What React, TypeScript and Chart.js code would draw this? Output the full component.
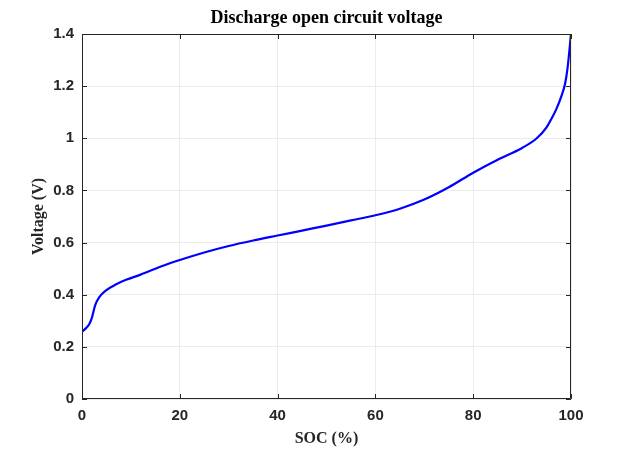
import React, { useEffect, useRef } from "react";
import { Chart, registerables } from "chart.js";

Chart.register(...registerables);

const soc = [0, 1, 1.5, 2, 2.7, 3.5, 5, 7, 9, 12, 16, 20, 25, 30, 35, 40, 45, 50, 55, 60, 65, 70, 75, 80, 85, 90, 93, 95, 96, 97, 98, 98.8, 99.3, 100];
const voltage = [0.258, 0.275, 0.288, 0.31, 0.36, 0.39, 0.418, 0.44, 0.457, 0.477, 0.507, 0.533, 0.562, 0.587, 0.608, 0.627, 0.646, 0.665, 0.685, 0.705, 0.73, 0.765, 0.812, 0.868, 0.918, 0.963, 1.0, 1.042, 1.075, 1.112, 1.16, 1.21, 1.27, 1.4];
const xTicks = [0, 20, 40, 60, 80, 100];
const yTicks = [0, 0.2, 0.4, 0.6, 0.8, 1, 1.2, 1.4];
const titleText = "Discharge open circuit voltage";

const AXIS = "#262626";
const SERIF = "'Liberation Serif', 'Times New Roman', serif";
const SANS = "'Liberation Sans', Arial, sans-serif";

const boxPlugin = {
  id: "boxTicks",
  afterDatasetsDraw(chart: any) {
    const { ctx, chartArea } = chart;
    const { left, right, top, bottom } = chartArea;
    const xs = chart.scales.x;
    const ys = chart.scales.y;
    ctx.save();
    ctx.strokeStyle = AXIS;
    ctx.lineWidth = 1;
    ctx.beginPath();
    ctx.rect(left + 0.5, top + 0.5, right - left - 1, bottom - top - 1);
    const t = 5;
    xTicks.forEach((v) => {
      const px = Math.round(xs.getPixelForValue(v)) + 0.5;
      ctx.moveTo(px, bottom);
      ctx.lineTo(px, bottom - t);
      ctx.moveTo(px, top);
      ctx.lineTo(px, top + t);
    });
    yTicks.forEach((v) => {
      const py = Math.round(ys.getPixelForValue(v)) + 0.5;
      ctx.moveTo(left, py);
      ctx.lineTo(left + t, py);
      ctx.moveTo(right, py);
      ctx.lineTo(right - t, py);
    });
    ctx.stroke();
    ctx.fillStyle = "#000";
    ctx.font = `bold 18px ${SERIF}`;
    ctx.textAlign = "center";
    ctx.textBaseline = "middle";
    ctx.fillText(titleText, (left + right) / 2, 18);
    ctx.restore();
  },
};

export default function App() {
  const ref = useRef<HTMLCanvasElement>(null);
  useEffect(() => {
    document.body.style.margin = "0";
    const c = new Chart(ref.current!, {
      type: "line",
      data: {
        datasets: [
          {
            data: soc.map((s, i) => ({ x: s, y: voltage[i] })),
            borderColor: "#0000ff",
            borderWidth: 2.2,
            pointRadius: 0,
            cubicInterpolationMode: "monotone",
            fill: false,
          },
        ],
      },
      options: {
        animation: false,
        responsive: false,
        maintainAspectRatio: false,
        layout: { padding: { left: 0, right: 60, top: 34, bottom: 0 } },
        plugins: {
          legend: { display: false },
          tooltip: { enabled: false },
          title: { display: false },
        },
        scales: {
          x: {
            type: "linear",
            min: 0,
            max: 100,
            afterFit: (s: any) => { s.height = 50; },
            afterBuildTicks: (s: any) => { s.ticks = xTicks.map((v) => ({ value: v })); },
            grid: { color: "#ebebeb", drawTicks: false },
            border: { display: false },
            ticks: {
              color: AXIS,
              padding: 8,
              maxRotation: 0,
              font: { family: SANS, size: 15, weight: "bold" },
            },
            title: {
              display: true,
              text: "SOC (%)",
              color: AXIS,
              font: { family: SERIF, size: 16, weight: "bold" },
              padding: { top: 0, bottom: 1 },
            },
          },
          y: {
            type: "linear",
            min: 0,
            max: 1.4,
            afterFit: (s: any) => { s.width = 82; },
            afterBuildTicks: (s: any) => { s.ticks = yTicks.map((v) => ({ value: v })); },
            grid: { color: "#ebebeb", drawTicks: false },
            border: { display: false },
            ticks: {
              color: AXIS,
              padding: 8,
              callback: (v: any) => String(Math.round(Number(v) * 10) / 10),
              font: { family: SANS, size: 15, weight: "bold" },
            },
            title: {
              display: true,
              text: "Voltage (V)",
              color: AXIS,
              font: { family: SERIF, size: 16, weight: "bold" },
              padding: { top: 29, bottom: 0 },
            },
          },
        },
      },
      plugins: [boxPlugin],
    });
    return () => c.destroy();
  }, []);
  return (
    <div style={{ width: 631, height: 449, background: "#fff" }}>
      <canvas ref={ref} width={631} height={449} style={{ width: 631, height: 449, display: "block" }} />
    </div>
  );
}
